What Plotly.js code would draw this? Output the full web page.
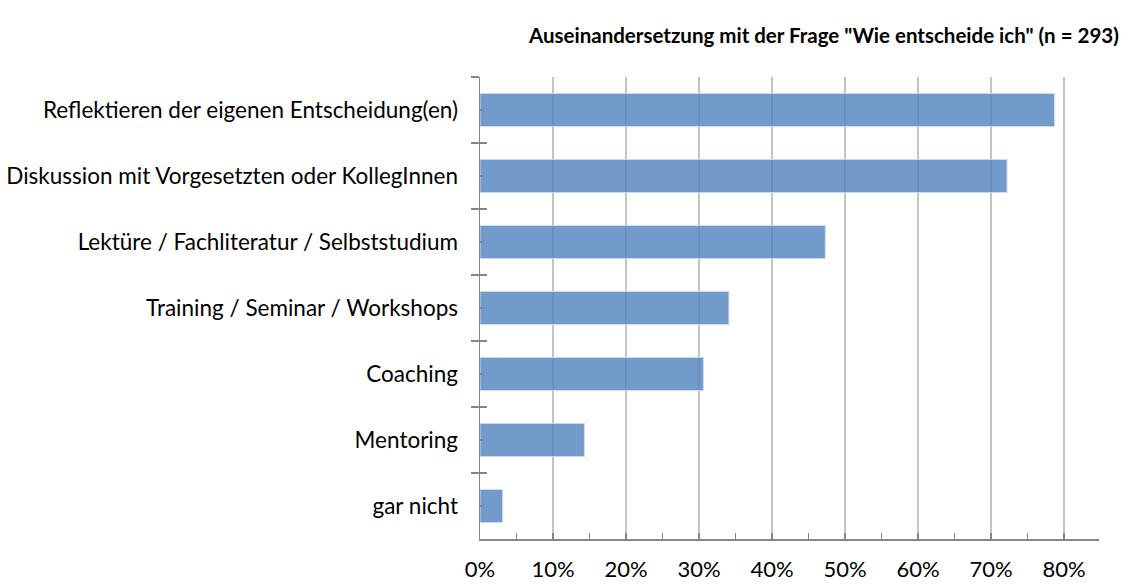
<!DOCTYPE html>
<html>
<head>
<meta charset="utf-8">
<script src="https://cdn.plot.ly/plotly-3.0.1.min.js"></script>
<style>html,body{margin:0;padding:0;background:#fff;}#chart{width:1129px;height:585px;}</style>
</head>
<body>
<div id="chart"></div>
<script>
const categories = [
  "Reflektieren der eigenen Entscheidung(en)",
  "Diskussion mit Vorgesetzten oder KollegInnen",
  "Lektüre / Fachliteratur / Selbststudium",
  "Training / Seminar / Workshops",
  "Coaching",
  "Mentoring",
  "gar nicht"
];
const shares = [0.787, 0.722, 0.473, 0.341, 0.306, 0.143, 0.031];
const titleText = 'Auseinandersetzung mit der Frage "Wie entscheide ich" (n = 293)';

const FONT = "Lato, 'Open Sans', sans-serif";
const axisColor = "#868686";

const barMain = {
  type: "bar", orientation: "h",
  x: shares, y: categories,
  xaxis: "x", yaxis: "y",
  marker: {color: "rgba(79,129,189,0.8)", line: {color: "rgba(205,218,236,1)", width: 1}},
  hoverinfo: "x+y"
};
const ghost = (ax) => ({
  type: "bar", orientation: "h",
  x: shares, y: categories,
  xaxis: "x", yaxis: ax,
  marker: {color: "rgba(0,0,0,0)"},
  hoverinfo: "skip", showlegend: false
});

const yBase = {
  type: "category",
  categoryorder: "array",
  categoryarray: categories,
  range: [6.5, -0.5],
  showgrid: false,
  zeroline: false,
  fixedrange: true
};

const layout = {
  width: 1129, height: 585,
  margin: {l: 480, r: 30, t: 77, b: 46, pad: 0},
  paper_bgcolor: "#ffffff",
  plot_bgcolor: "#ffffff",
  showlegend: false,
  bargap: 0.5,
  font: {family: FONT, color: "#000000", size: 18},
  title: {
    text: "<b>" + titleText + "</b>",
    font: {family: FONT, size: 20.5, color: "#000000"},
    xref: "container", yref: "container",
    x: 0.991, xanchor: "right",
    y: 1 - 36/585, yanchor: "middle"
  },
  xaxis: {
    range: [0, 0.848],
    tickformat: ".0%",
    dtick: 0.1, tick0: 0,
    showgrid: true, gridcolor: "#c4c4c4", gridwidth: 1.5,
    zeroline: false,
    showline: true, linecolor: axisColor, linewidth: 1.5,
    ticks: "inside", ticklen: 6, tickcolor: axisColor, tickwidth: 1.5,
    minor: {dtick: 0.05, ticks: "inside", ticklen: 6, tickcolor: axisColor, tickwidth: 1.2, showgrid: false},
    tickfont: {family: FONT, size: 22, color: "#000000"},
    ticklabelstandoff: 10,
    fixedrange: true
  },
  yaxis: Object.assign({}, yBase, {
    showline: true, linecolor: axisColor, linewidth: 1.5,
    ticks: "outside", tickson: "boundaries", ticklen: 8, tickcolor: axisColor, tickwidth: 1.5,
    tickfont: {family: FONT, size: 22.5, color: "#000000"},
    ticklabelstandoff: 16
  }),
  yaxis2: Object.assign({}, yBase, {
    overlaying: "y", matches: "y", side: "left",
    showline: false, showticklabels: false,
    ticks: "inside", tickson: "boundaries", ticklen: 7, tickcolor: axisColor, tickwidth: 1.5
  }),
  yaxis3: Object.assign({}, yBase, {
    overlaying: "y", matches: "y", side: "left",
    showline: false, showticklabels: false,
    ticks: "inside", tickson: "labels", ticklen: 4, tickcolor: axisColor, tickwidth: 1.5
  })
};

Plotly.newPlot("chart", [barMain, ghost("y2"), ghost("y3")], layout, {displayModeBar: false, staticPlot: true});
</script>
</body>
</html>
